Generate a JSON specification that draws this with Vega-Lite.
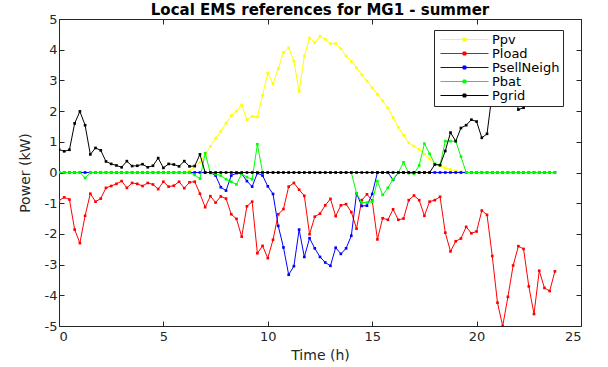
{
"$schema": "https://vega.github.io/schema/vega-lite/v6.json",
"autosize": "none",
"width": 522, "height": 307,
"padding": {"left": 59, "top": 19, "right": 27, "bottom": 41},
"background": "white",
"config": {
  "font": "DejaVu Sans",
  "view": {"stroke": "#262626", "strokeWidth": 1},
  "axis": {"grid": false, "domain": false, "labelFont": "DejaVu Sans", "labelFontSize": 13, "labelColor": "#262626", "tickColor": "#262626", "tickSize": -5, "titleFont": "DejaVu Sans", "titleFontSize": 14, "titleFontWeight": "normal", "titleColor": "#262626", "labelExpr": "'' + datum.value"}
},
"title": {"text": "Local EMS references for MG1 - summer", "fontSize": 15, "fontWeight": "bold", "color": "black", "font": "DejaVu Sans", "offset": 4, "dy": 9},
"data": {"values": [
{"t":0,"Ppv":0,"Pload":-0.91,"PsellNeigh":0,"Pbat":0,"Pgrid":0.75},
{"t":0.25,"Ppv":0,"Pload":-0.81,"PsellNeigh":0,"Pbat":0,"Pgrid":0.69},
{"t":0.5,"Ppv":0,"Pload":-0.88,"PsellNeigh":0,"Pbat":0,"Pgrid":0.74},
{"t":0.75,"Ppv":0,"Pload":-1.86,"PsellNeigh":0,"Pbat":0,"Pgrid":1.6},
{"t":1,"Ppv":0,"Pload":-2.3,"PsellNeigh":0,"Pbat":0,"Pgrid":1.99},
{"t":1.25,"Ppv":0,"Pload":-1.41,"PsellNeigh":0,"Pbat":-0.18,"Pgrid":1.54},
{"t":1.5,"Ppv":0,"Pload":-0.69,"PsellNeigh":0,"Pbat":0,"Pgrid":0.59},
{"t":1.75,"Ppv":0,"Pload":-0.95,"PsellNeigh":0,"Pbat":0,"Pgrid":0.8},
{"t":2,"Ppv":0,"Pload":-0.85,"PsellNeigh":0,"Pbat":0,"Pgrid":0.72},
{"t":2.25,"Ppv":0,"Pload":-0.5,"PsellNeigh":0,"Pbat":0,"Pgrid":0.36},
{"t":2.5,"Ppv":0,"Pload":-0.44,"PsellNeigh":0,"Pbat":0,"Pgrid":0.28},
{"t":2.75,"Ppv":0,"Pload":-0.37,"PsellNeigh":0,"Pbat":0,"Pgrid":0.23},
{"t":3,"Ppv":0,"Pload":-0.28,"PsellNeigh":0,"Pbat":0,"Pgrid":0.17},
{"t":3.25,"Ppv":0,"Pload":-0.5,"PsellNeigh":0,"Pbat":0,"Pgrid":0.37},
{"t":3.5,"Ppv":0,"Pload":-0.34,"PsellNeigh":0,"Pbat":0,"Pgrid":0.21},
{"t":3.75,"Ppv":0,"Pload":-0.37,"PsellNeigh":0,"Pbat":0,"Pgrid":0.22},
{"t":4,"Ppv":0,"Pload":-0.44,"PsellNeigh":0,"Pbat":0,"Pgrid":0.27},
{"t":4.25,"Ppv":0,"Pload":-0.34,"PsellNeigh":0,"Pbat":0,"Pgrid":0.17},
{"t":4.5,"Ppv":0,"Pload":-0.39,"PsellNeigh":0,"Pbat":0,"Pgrid":0.22},
{"t":4.75,"Ppv":0,"Pload":-0.54,"PsellNeigh":0,"Pbat":0,"Pgrid":0.47},
{"t":5,"Ppv":0,"Pload":-0.3,"PsellNeigh":0,"Pbat":0,"Pgrid":0.15},
{"t":5.25,"Ppv":0,"Pload":-0.46,"PsellNeigh":0,"Pbat":0,"Pgrid":0.28},
{"t":5.5,"Ppv":0,"Pload":-0.43,"PsellNeigh":0,"Pbat":0,"Pgrid":0.26},
{"t":5.75,"Ppv":0,"Pload":-0.3,"PsellNeigh":0,"Pbat":0,"Pgrid":0.2},
{"t":6,"Ppv":0,"Pload":-0.51,"PsellNeigh":0,"Pbat":0,"Pgrid":0.37},
{"t":6.25,"Ppv":0.05,"Pload":-0.32,"PsellNeigh":0,"Pbat":0,"Pgrid":0.2},
{"t":6.5,"Ppv":0.18,"Pload":-0.3,"PsellNeigh":0,"Pbat":-0.08,"Pgrid":0.21},
{"t":6.75,"Ppv":0.33,"Pload":-0.69,"PsellNeigh":0,"Pbat":-0.2,"Pgrid":0.59},
{"t":7,"Ppv":0.6,"Pload":-1.13,"PsellNeigh":0,"Pbat":0.63,"Pgrid":0},
{"t":7.25,"Ppv":0.85,"Pload":-0.77,"PsellNeigh":0,"Pbat":-0.02,"Pgrid":0},
{"t":7.5,"Ppv":1.12,"Pload":-0.98,"PsellNeigh":-0.1,"Pbat":-0.05,"Pgrid":0},
{"t":7.75,"Ppv":1.34,"Pload":-0.78,"PsellNeigh":-0.48,"Pbat":-0.1,"Pgrid":0},
{"t":8,"Ppv":1.61,"Pload":-0.85,"PsellNeigh":-0.59,"Pbat":-0.22,"Pgrid":0},
{"t":8.25,"Ppv":1.85,"Pload":-1.36,"PsellNeigh":-0.1,"Pbat":-0.3,"Pgrid":0},
{"t":8.5,"Ppv":2.0,"Pload":-1.51,"PsellNeigh":-0.02,"Pbat":-0.39,"Pgrid":0},
{"t":8.75,"Ppv":2.2,"Pload":-2.09,"PsellNeigh":-0.04,"Pbat":-0.04,"Pgrid":0},
{"t":9,"Ppv":1.72,"Pload":-1.1,"PsellNeigh":-0.28,"Pbat":-0.15,"Pgrid":0},
{"t":9.25,"Ppv":1.83,"Pload":-0.95,"PsellNeigh":-0.46,"Pbat":-0.22,"Pgrid":0},
{"t":9.5,"Ppv":1.81,"Pload":-2.63,"PsellNeigh":-0.02,"Pbat":0.92,"Pgrid":0},
{"t":9.75,"Ppv":2.52,"Pload":-2.39,"PsellNeigh":-0.1,"Pbat":0,"Pgrid":0},
{"t":10,"Ppv":3.24,"Pload":-2.79,"PsellNeigh":-0.45,"Pbat":0,"Pgrid":0},
{"t":10.25,"Ppv":2.89,"Pload":-2.19,"PsellNeigh":-0.7,"Pbat":0,"Pgrid":0},
{"t":10.5,"Ppv":3.38,"Pload":-1.36,"PsellNeigh":-1.74,"Pbat":0,"Pgrid":0},
{"t":10.75,"Ppv":3.91,"Pload":-1.19,"PsellNeigh":-2.44,"Pbat":0,"Pgrid":0},
{"t":11,"Ppv":4.06,"Pload":-0.46,"PsellNeigh":-3.33,"Pbat":0,"Pgrid":0},
{"t":11.25,"Ppv":3.63,"Pload":-0.34,"PsellNeigh":-3.05,"Pbat":0,"Pgrid":0},
{"t":11.5,"Ppv":2.64,"Pload":-0.56,"PsellNeigh":-1.86,"Pbat":0,"Pgrid":0},
{"t":11.75,"Ppv":3.79,"Pload":-0.76,"PsellNeigh":-2.75,"Pbat":0,"Pgrid":0},
{"t":12,"Ppv":4.38,"Pload":-2.01,"PsellNeigh":-2.14,"Pbat":0,"Pgrid":0},
{"t":12.25,"Ppv":4.23,"Pload":-1.44,"PsellNeigh":-2.47,"Pbat":0,"Pgrid":0},
{"t":12.5,"Ppv":4.44,"Pload":-1.34,"PsellNeigh":-2.75,"Pbat":0,"Pgrid":0},
{"t":12.75,"Ppv":4.34,"Pload":-1.07,"PsellNeigh":-2.93,"Pbat":0,"Pgrid":0},
{"t":13,"Ppv":4.2,"Pload":-0.86,"PsellNeigh":-3.04,"Pbat":0,"Pgrid":0},
{"t":13.25,"Ppv":4.2,"Pload":-1.42,"PsellNeigh":-2.45,"Pbat":0,"Pgrid":0},
{"t":13.5,"Ppv":4.03,"Pload":-1.07,"PsellNeigh":-2.65,"Pbat":0,"Pgrid":0},
{"t":13.75,"Ppv":3.79,"Pload":-1.03,"PsellNeigh":-2.47,"Pbat":0,"Pgrid":0},
{"t":14,"Ppv":3.62,"Pload":-1.29,"PsellNeigh":-2.06,"Pbat":0,"Pgrid":0},
{"t":14.25,"Ppv":3.41,"Pload":-1.83,"PsellNeigh":-0.68,"Pbat":-0.68,"Pgrid":0},
{"t":14.5,"Ppv":3.18,"Pload":-0.9,"PsellNeigh":-1.09,"Pbat":-0.98,"Pgrid":0},
{"t":14.75,"Ppv":2.98,"Pload":-0.71,"PsellNeigh":-1.08,"Pbat":-0.98,"Pgrid":0},
{"t":15,"Ppv":2.76,"Pload":-0.91,"PsellNeigh":-0.7,"Pbat":-0.95,"Pgrid":0},
{"t":15.25,"Ppv":2.55,"Pload":-2.18,"PsellNeigh":0,"Pbat":-0.28,"Pgrid":0},
{"t":15.5,"Ppv":2.33,"Pload":-1.49,"PsellNeigh":0,"Pbat":-0.73,"Pgrid":0},
{"t":15.75,"Ppv":2.1,"Pload":-1.54,"PsellNeigh":0,"Pbat":-0.5,"Pgrid":0},
{"t":16,"Ppv":1.79,"Pload":-1.2,"PsellNeigh":-0.24,"Pbat":-0.22,"Pgrid":0},
{"t":16.25,"Ppv":1.47,"Pload":-1.54,"PsellNeigh":0,"Pbat":0,"Pgrid":0},
{"t":16.5,"Ppv":1.22,"Pload":-1.5,"PsellNeigh":0,"Pbat":0.33,"Pgrid":0},
{"t":16.75,"Ppv":0.97,"Pload":-0.9,"PsellNeigh":0,"Pbat":-0.02,"Pgrid":0},
{"t":17,"Ppv":0.86,"Pload":-0.75,"PsellNeigh":0,"Pbat":-0.04,"Pgrid":0},
{"t":17.25,"Ppv":0.75,"Pload":-0.9,"PsellNeigh":0,"Pbat":0.23,"Pgrid":0},
{"t":17.5,"Ppv":0.59,"Pload":-1.41,"PsellNeigh":0,"Pbat":0.94,"Pgrid":0},
{"t":17.75,"Ppv":0.44,"Pload":-0.95,"PsellNeigh":0,"Pbat":0.61,"Pgrid":0},
{"t":18,"Ppv":0.28,"Pload":-0.9,"PsellNeigh":0,"Pbat":0.28,"Pgrid":0.26},
{"t":18.25,"Ppv":0.23,"Pload":-0.79,"PsellNeigh":0,"Pbat":0.24,"Pgrid":0.24},
{"t":18.5,"Ppv":0.15,"Pload":-1.96,"PsellNeigh":0,"Pbat":1.02,"Pgrid":0.7},
{"t":18.75,"Ppv":0.1,"Pload":-2.57,"PsellNeigh":0,"Pbat":1.02,"Pgrid":1.3},
{"t":19,"Ppv":0.05,"Pload":-2.24,"PsellNeigh":0,"Pbat":1.02,"Pgrid":1.02},
{"t":19.25,"Ppv":0.02,"Pload":-2.15,"PsellNeigh":0,"Pbat":0.52,"Pgrid":1.45},
{"t":19.5,"Ppv":0,"Pload":-1.77,"PsellNeigh":0,"Pbat":0,"Pgrid":1.54},
{"t":19.75,"Ppv":0,"Pload":-1.98,"PsellNeigh":0,"Pbat":0,"Pgrid":1.72},
{"t":20,"Ppv":0,"Pload":-1.92,"PsellNeigh":0,"Pbat":0,"Pgrid":1.66},
{"t":20.25,"Ppv":0,"Pload":-1.24,"PsellNeigh":0,"Pbat":0,"Pgrid":1.13},
{"t":20.5,"Ppv":0,"Pload":-1.38,"PsellNeigh":0,"Pbat":0,"Pgrid":1.26},
{"t":20.75,"Ppv":0,"Pload":-2.72,"PsellNeigh":0,"Pbat":0,"Pgrid":2.6},
{"t":21,"Ppv":0,"Pload":-4.24,"PsellNeigh":0,"Pbat":0,"Pgrid":3.8},
{"t":21.25,"Ppv":0,"Pload":-5.0,"PsellNeigh":0,"Pbat":0,"Pgrid":4.4},
{"t":21.5,"Ppv":0,"Pload":-4.05,"PsellNeigh":0,"Pbat":0,"Pgrid":3.6},
{"t":21.75,"Ppv":0,"Pload":-3.03,"PsellNeigh":0,"Pbat":0,"Pgrid":2.8},
{"t":22,"Ppv":0,"Pload":-2.4,"PsellNeigh":0,"Pbat":0,"Pgrid":2.05},
{"t":22.25,"Ppv":0,"Pload":-2.49,"PsellNeigh":0,"Pbat":0,"Pgrid":2.11},
{"t":22.5,"Ppv":0,"Pload":-3.71,"PsellNeigh":0,"Pbat":0,"Pgrid":3.4},
{"t":22.75,"Ppv":0,"Pload":-4.61,"PsellNeigh":0,"Pbat":0,"Pgrid":4.2},
{"t":23,"Ppv":0,"Pload":-3.2,"PsellNeigh":0,"Pbat":0,"Pgrid":3.0},
{"t":23.25,"Ppv":0,"Pload":-3.76,"PsellNeigh":0,"Pbat":0,"Pgrid":3.5},
{"t":23.5,"Ppv":0,"Pload":-3.86,"PsellNeigh":0,"Pbat":0,"Pgrid":3.6},
{"t":23.75,"Ppv":0,"Pload":-3.22,"PsellNeigh":0,"Pbat":0,"Pgrid":3.0}
]},
"transform": [{"fold": ["Ppv", "Pload", "PsellNeigh", "Pbat", "Pgrid"], "as": ["s", "v"]}],
"layer": [
  {
    "encoding": {
      "x": {"field": "t", "type": "quantitative", "scale": {"domain": [0, 25], "nice": false, "zero": false}, "axis": {"orient": "bottom", "values": [0, 5, 10, 15, 20, 25], "title": "Time (h)", "labelPadding": 9, "titlePadding": 5}},
      "y": {"field": "v", "type": "quantitative", "scale": {"domain": [-5, 5], "nice": false}, "axis": {"orient": "left", "values": [-5, -4, -3, -2, -1, 0, 1, 2, 3, 4, 5], "title": "Power (kW)", "labelPadding": 7, "titlePadding": 12}},
      "color": {"field": "s", "type": "nominal",
        "scale": {"domain": ["Ppv", "Pload", "PsellNeigh", "Pbat", "Pgrid"], "range": ["#FFFF00", "#FF0000", "#0000FF", "#00FF00", "#000000"]},
        "legend": {"title": null, "orient": "none", "legendX": 375, "legendY": 11, "fillColor": "white", "strokeColor": "#262626", "padding": 3, "labelFontSize": 13, "labelColor": "black", "labelFont": "DejaVu Sans", "symbolType": "M-0.7,0H4.1M1.55,-0.15H1.85V0.15H1.55Z", "symbolSize": 400, "symbolStrokeWidth": 1, "labelOffset": 34, "rowPadding": 0, "clipHeight": 13,
          "encode": {"symbols": {"update": {"size": {"value": 400}, "shape": {"value": "M-0.7,0H4.1M1.55,-0.15H1.85V0.15H1.55Z"}, "strokeWidth": {"value": 1}, "fill": {"scale": "color", "field": "value"}, "stroke": {"scale": "color", "field": "value"}}}}}
      }
    },
    "layer": [
      {"transform": [{"filter": "datum.s === 'Ppv'"}], "mark": {"type": "line", "strokeWidth": 1, "clip": true, "point": {"shape": "square", "size": 7, "filled": true}}},
      {"transform": [{"filter": "datum.s === 'Pload'"}], "mark": {"type": "line", "strokeWidth": 1, "clip": true, "point": {"shape": "square", "size": 7, "filled": true}}},
      {"transform": [{"filter": "datum.s === 'PsellNeigh'"}], "mark": {"type": "line", "strokeWidth": 1, "clip": true, "point": {"shape": "square", "size": 7, "filled": true}}},
      {"transform": [{"filter": "datum.s === 'Pbat'"}], "mark": {"type": "line", "strokeWidth": 1, "clip": true, "point": {"shape": "square", "size": 7, "filled": true}}},
      {"transform": [{"filter": "datum.s === 'Pgrid'"}], "mark": {"type": "line", "strokeWidth": 1, "clip": true, "point": {"shape": "square", "size": 7, "filled": true}}}
    ]
  },
  {
    "mark": {"type": "point", "opacity": 0},
    "encoding": {
      "x": {"field": "t", "type": "quantitative", "axis": {"orient": "top", "values": [0, 5, 10, 15, 20, 25], "labels": false, "title": null}},
      "y": {"field": "v", "type": "quantitative", "axis": {"orient": "right", "values": [-5, -4, -3, -2, -1, 0, 1, 2, 3, 4, 5], "labels": false, "title": null}}
    }
  }
],
"resolve": {"axis": {"x": "independent", "y": "independent"}}
}
